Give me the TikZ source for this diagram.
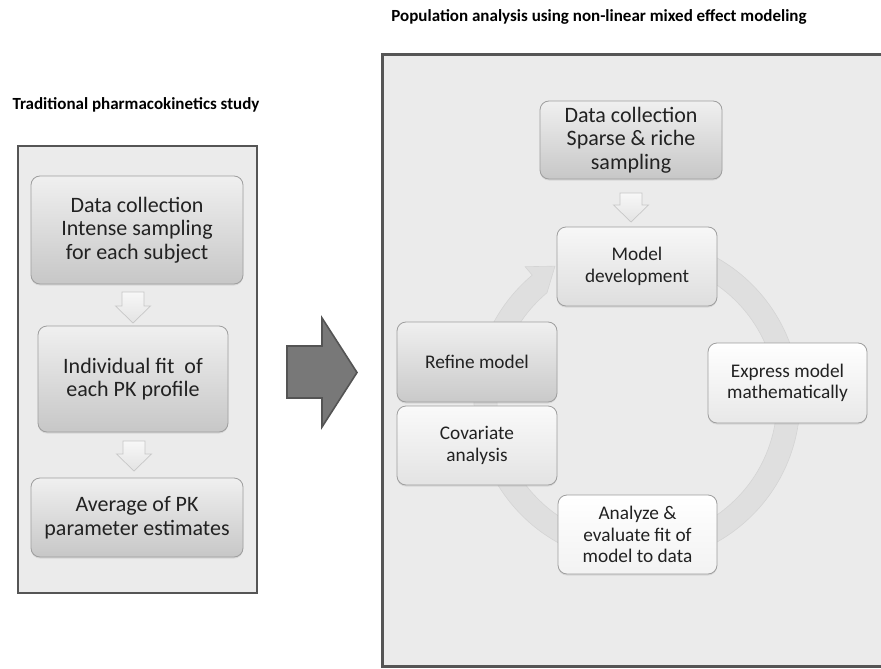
\documentclass[tikz,border=0pt]{standalone}
\usepackage{fontspec}
\setmainfont{Carlito}
\usetikzlibrary{calc,shadows}
\definecolor{panelbg}{HTML}{EBEBEB}
\definecolor{panelline}{HTML}{555555}
\definecolor{boxline}{HTML}{9E9E9E}
\definecolor{txt}{HTML}{222222}
\tikzset{
  panel/.style={fill=panelbg},
  panelborder/.style={draw=panelline, line width=2.2},
  basebox/.style={rounded corners=9, draw=boxline, line width=0.8, inner sep=0,
     align=center, text=txt, drop shadow={opacity=0.18, shadow xshift=0pt, shadow yshift=-1.5pt}},
  darkbox/.style={basebox, top color=white!94!black, bottom color=white!78!black},
  bigtext/.style={font=\fontsize{22}{23.5}\selectfont},
  cyctext/.style={font=\fontsize{19.3}{21.5}\selectfont},
  modelbox/.style={basebox, top color=white!97!black, bottom color=white!87!black},
  exprbox/.style={basebox, top color=white, bottom color=white!91!black},
  anabox/.style={basebox, top color=white, bottom color=white!95!black},
  covbox/.style={basebox, top color=white!98!black, bottom color=white!89!black},
  refbox/.style={basebox, top color=white!94!black, bottom color=white!79!black},
  smallarrow/.style={top color=white!97!black, bottom color=white!89!black, draw=white!78!black, line width=0.7},
  bigarrow/.style={fill=white!47!black, draw=white!33!black, line width=1.6, line join=miter},
  ringstyle/.style={fill=white!87.5!black, draw=white!83!black, line width=0.6},
  titletext/.style={font=\bfseries\fontsize{17}{18.5}\selectfont, text=black, inner sep=0}
}
\newcommand{\dnarr}[2]{%
  \path[smallarrow] ($(#1)+(-11,0)$) -- ($(#1)+(11,0)$) -- ($(#2)+(11,-17)$)
    -- ($(#2)+(17.5,-17)$) -- (#2) -- ($(#2)+(-17.5,-17)$) -- ($(#2)+(-11,-17)$) -- cycle;}
\begin{document}
\begin{tikzpicture}[x=1pt,y=-1pt]
\useasboundingbox (0,0) rectangle (881,669);
\fill[white] (0,0) rectangle (881,669);

% ---------- titles ----------
\node[titletext] (lt) at (136,105) {Traditional pharmacokinetics study};
\node[titletext] (rt) at (599,17) {Population analysis using non-linear mixed effect modeling};

% ---------- left panel ----------
\path[panel] (18,146) rectangle (257,593);
\draw[panelborder] (18,146) rectangle (257,593);

\node[darkbox, bigtext, minimum width=212, minimum height=108] (b1) at (137,230)
  {Data collection\\Intense sampling\\for each subject};
\node[darkbox, bigtext, minimum width=190, minimum height=106] (b2) at (133,379)
  {Individual fit\ \ of\\each PK profile};
\node[darkbox, bigtext, minimum width=212, minimum height=79] (b3) at (137,517.5)
  {Average of PK\\parameter estimates};

\coordinate (a1top) at (133,292);
\coordinate (a1tip) at (133,323);
\dnarr{a1top}{a1tip}
\coordinate (a2top) at (134,441);
\coordinate (a2tip) at (134,471);
\dnarr{a2top}{a2tip}

% ---------- big arrow ----------
\path[bigarrow] (287,346) -- (322,346) -- (322,318) -- (357,372.5) -- (322,427)
  -- (322,398) -- (287,398) -- cycle;

% ---------- right panel ----------
\path[panel] (382,55) rectangle (881,666);
\draw[panelborder, line width=3] (881,55) -- (382,55) -- (382,666) -- (881,666);

% ring arrow
\coordinate (c) at (637,400);
\path[ringstyle] ($(c)+(-80:163)$) arc[start angle=-80, end angle=230, radius=163]
  -- ($(c)+(230:174)$) -- ($(c)+(238.5:157)$) -- ($(c)+(230:140)$)
  arc[start angle=230, end angle=-80, radius=140] -- cycle;

\node[darkbox, bigtext, minimum width=182, minimum height=78] (d) at (631,140)
  {Data collection\\Sparse \& riche\\sampling};
\coordinate (a3top) at (631,193);
\coordinate (a3tip) at (631,222);
\dnarr{a3top}{a3tip}

\node[modelbox, cyctext, minimum width=160, minimum height=79] (m) at (637,266.5)
  {Model\\development};
\node[exprbox, cyctext, minimum width=159, minimum height=80] (e) at (787.5,383)
  {Express model\\mathematically};
\node[anabox, cyctext, minimum width=159, minimum height=79] (an) at (637.5,534.5)
  {Analyze \&\\evaluate fit of\\model to data};
\node[covbox, cyctext, minimum width=160, minimum height=79] (cv) at (477,445.5)
  {Covariate\\analysis};
\node[refbox, cyctext, minimum width=160, minimum height=80] (rf) at (477,362)
  {Refine model};
\end{tikzpicture}
\end{document}
